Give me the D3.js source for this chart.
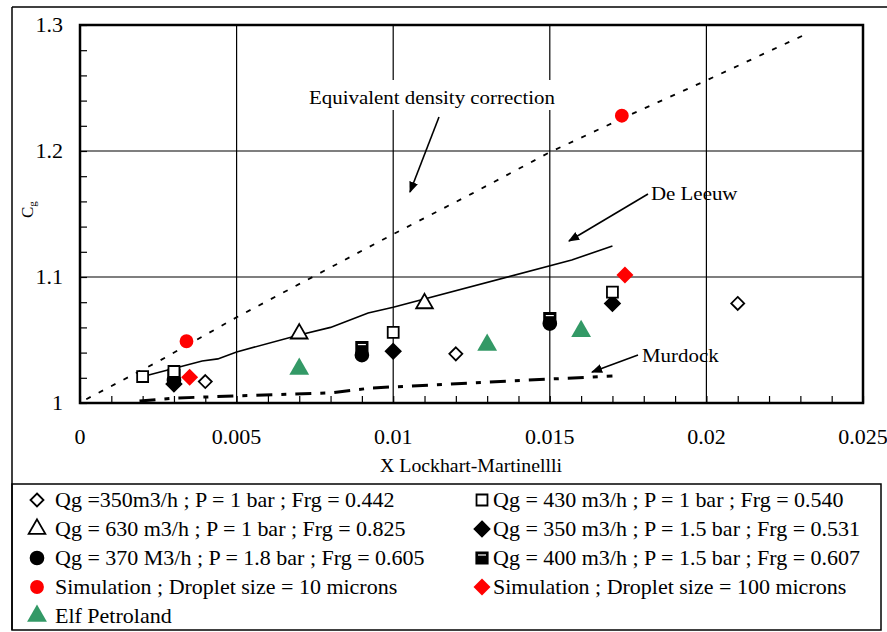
<!DOCTYPE html>
<html>
<head>
<meta charset="utf-8">
<title>Cg vs Lockhart-Martinelli</title>
<script src="https://d3js.org/d3.v7.min.js"></script>
<style>
  body { margin: 0; background: #fff; }
  svg { font-family: "Liberation Serif", "Times New Roman", serif; }
</style>
</head>
<body>
<div id="chart"></div>
<script>
// ---- data ----
var xTicks = [0, 0.005, 0.01, 0.015, 0.02, 0.025];
var yTicks = [1, 1.1, 1.2, 1.3];
var xTickLabels = ["0", "0.005", "0.01", "0.015", "0.02", "0.025"];
var yTickLabels = ["1", "1.1", "1.2", "1.3"];

// open diamond : Qg=350 m3/h, P=1 bar
var qg350p1 = [[0.004, 1.017], [0.012, 1.039], [0.021, 1.079]];
// open square : Qg=430 m3/h, P=1 bar
var qg430p1 = [[0.002, 1.021], [0.003, 1.025], [0.01, 1.056], [0.017, 1.088]];
// open triangle : Qg=630 m3/h, P=1 bar
var qg630p1 = [[0.007, 1.055], [0.011, 1.079]];
// filled diamond : Qg=350 m3/h, P=1.5 bar
var qg350p15 = [[0.003, 1.015], [0.01, 1.041], [0.017, 1.079]];
// filled circle : Qg=370 m3/h, P=1.8 bar
var qg370p18 = [[0.003, 1.018], [0.009, 1.038], [0.015, 1.063]];
// half filled square : Qg=400 m3/h, P=1.5 bar
var qg400p15 = [[0.003, 1.022], [0.009, 1.044], [0.015, 1.067]];
// red circle : simulation 10 microns
var sim10 = [[0.0034, 1.049], [0.0173, 1.228]];
// red diamond : simulation 100 microns
var sim100 = [[0.0035, 1.0205], [0.0174, 1.1015]];
// green triangle : Elf Petroland
var elf = [[0.007, 1.027], [0.013, 1.046], [0.016, 1.057]];

// model curves
var eqDensity = [[0.0002, 1.003], [0.0025, 1.033], [0.005, 1.068], [0.0075, 1.101],
                 [0.01, 1.134], [0.0125, 1.166], [0.015, 1.199], [0.0175, 1.228],
                 [0.02, 1.256], [0.0232, 1.293]];
var deLeeuw = [[0.00195, 1.0206], [0.0039, 1.0333], [0.0044, 1.035], [0.005, 1.0405],
               [0.007, 1.054], [0.008, 1.060], [0.0092, 1.0714], [0.01, 1.076],
               [0.0157, 1.1135], [0.017, 1.1246]];
var murdock = [[0.0019, 1.0016], [0.0031, 1.004], [0.005, 1.0056], [0.008, 1.008],
               [0.0093, 1.0119], [0.0118, 1.015], [0.015, 1.019], [0.017, 1.0214]];

var legendLabels = [
  "Qg =350m3/h ; P = 1 bar ; Frg = 0.442",
  "Qg = 430 m3/h ; P = 1 bar ; Frg = 0.540",
  "Qg = 630 m3/h ; P = 1 bar ; Frg = 0.825",
  "Qg = 350 m3/h ; P = 1.5 bar ; Frg = 0.531",
  "Qg = 370 M3/h ; P = 1.8 bar ; Frg = 0.605",
  "Qg = 400 m3/h ; P = 1.5 bar ; Frg = 0.607",
  "Simulation ; Droplet size = 10 microns",
  "Simulation ; Droplet size = 100 microns",
  "Elf Petroland"
];

// ---- layout ----
var W = 887, H = 632;
var margin = { top: 25, left: 80, right: 24, bottom: 229 };
var pw = W - margin.left - margin.right,
    ph = H - margin.top - margin.bottom;
var stretch = 1.1;   // the source text is a bit wider than Liberation Serif

var svg = d3.select("#chart").append("svg")
  .attr("width", W).attr("height", H);

// text helper: wide serif text anchored at (tx,ty)
function label(parent, tx, ty, str, size, anchor) {
  return parent.append("g")
    .attr("transform", "translate(" + tx + "," + ty + ") scale(" + stretch + ",1)")
    .append("text").attr("text-anchor", anchor || "start")
    .attr("font-size", size).text(str);
}

// outer frame
svg.append("line").attr("x1", 12).attr("x2", 887).attr("y1", 7).attr("y2", 7)
  .attr("stroke", "#000").attr("stroke-width", 1.5);
svg.append("line").attr("x1", 12).attr("x2", 12).attr("y1", 7).attr("y2", 630)
  .attr("stroke", "#000").attr("stroke-width", 1.5);

var g = svg.append("g")
  .attr("transform", "translate(" + margin.left + "," + margin.top + ")");

var x = d3.scaleLinear().domain([0, 0.025]).range([0, pw]);
var y = d3.scaleLinear().domain([1, 1.3]).range([ph, 0]);

// grid lines
g.selectAll(".vgrid").data(xTicks.slice(1, -1)).enter().append("line")
  .attr("x1", function (d) { return x(d); }).attr("x2", function (d) { return x(d); })
  .attr("y1", 0).attr("y2", ph)
  .attr("stroke", "#000").attr("stroke-width", 1.2);
g.selectAll(".hgrid").data(yTicks.slice(1, -1)).enter().append("line")
  .attr("x1", 0).attr("x2", pw)
  .attr("y1", function (d) { return y(d); }).attr("y2", function (d) { return y(d); })
  .attr("stroke", "#000").attr("stroke-width", 1.2);

// minor ticks pointing inside
var yAxis = d3.axisRight(y).ticks(15).tickSize(7).tickFormat("");
g.append("g").call(yAxis).call(function (s) { s.select(".domain").remove(); });
var xAxis = d3.axisTop(x).ticks(25).tickSize(7).tickFormat("");
g.append("g").attr("transform", "translate(0," + ph + ")").call(xAxis)
  .call(function (s) { s.select(".domain").remove(); });
g.selectAll(".tick line").attr("stroke-width", 1.2);

// tick labels
yTicks.forEach(function (d, i) {
  label(g, -17, y(d) + 7, yTickLabels[i], 20, "end");
});
xTicks.forEach(function (d, i) {
  label(g, x(d), ph + 41, xTickLabels[i], 20, "middle");
});

// axis titles
label(svg, 471, 472, "X Lockhart-Martinellli", 18, "middle");
var yt = svg.append("text").attr("transform", "translate(33,218) rotate(-90)")
  .attr("font-size", 17);
yt.append("tspan").text("C");
yt.append("tspan").attr("font-size", 11).attr("dy", 3).text("g");

// curves
var line = d3.line().x(function (d) { return x(d[0]); }).y(function (d) { return y(d[1]); });
g.append("path").datum(eqDensity).attr("d", line).attr("fill", "none")
  .attr("stroke", "#000").attr("stroke-width", 1.8).attr("stroke-dasharray", "5,9");
g.append("path").datum(deLeeuw).attr("d", line).attr("fill", "none")
  .attr("stroke", "#000").attr("stroke-width", 1.6);
g.append("path").datum(murdock).attr("d", line).attr("fill", "none")
  .attr("stroke", "#000").attr("stroke-width", 3).attr("stroke-dasharray", "16,9,5,9");

// annotations with arrows
svg.append("defs").append("marker").attr("id", "arrow")
  .attr("viewBox", "0 0 10 10").attr("refX", 9).attr("refY", 5)
  .attr("markerWidth", 7).attr("markerHeight", 7).attr("orient", "auto")
  .append("path").attr("d", "M0,1 L10,5 L0,9 Z").attr("fill", "#000");

function note(text, tx, ty, anchor, x1, y1, x2, y2) {
  label(svg, tx, ty, text, 19, anchor);
  svg.append("line").attr("x1", x1).attr("y1", y1).attr("x2", x2).attr("y2", y2)
    .attr("stroke", "#000").attr("stroke-width", 1.6).attr("marker-end", "url(#arrow)");
}
// white backing behind the top label so the grid line is cut
svg.append("rect").attr("x", 303).attr("y", 80).attr("width", 258).attr("height", 30).attr("fill", "#fff");
note("Equivalent density correction", 432, 104, "middle", 439, 117, 410, 192);
note("De Leeuw", 651, 200, "start", 648, 194, 569, 241);
note("Murdock", 642, 362, "start", 638, 355, 592, 372);

// ---- markers ----
function sym(type, size) { return d3.symbol().type(type).size(size)(); }
function diamond(r) { return "M0," + (-r) + "L" + r + ",0L0," + r + "L" + (-r) + ",0Z"; }
var shapes = {
  openDiamond:  { path: diamond(6.5), fill: "#fff", stroke: "#000" },
  openSquare:   { path: sym(d3.symbolSquare, 120), fill: "#fff", stroke: "#000" },
  openTriangle: { path: sym(d3.symbolTriangle, 120), fill: "#fff", stroke: "#000" },
  filledDiamond:{ path: diamond(7.5), fill: "#000", stroke: "#000" },
  filledCircle: { path: sym(d3.symbolCircle, 130), fill: "#000", stroke: "#000" },
  halfSquare:   { path: sym(d3.symbolSquare, 130), fill: "#000", stroke: "#000" },
  redCircle:    { path: sym(d3.symbolCircle, 150), fill: "#ff0000", stroke: "none" },
  redDiamond:   { path: diamond(8.5), fill: "#ff0000", stroke: "none" },
  greenTri:     { path: sym(d3.symbolTriangle, 170), fill: "#339966", stroke: "none" }
};
var seriesOrder = [
  { data: qg350p15, shape: "filledDiamond" },
  { data: qg370p18, shape: "filledCircle" },
  { data: qg400p15, shape: "halfSquare" },
  { data: qg350p1, shape: "openDiamond" },
  { data: qg430p1, shape: "openSquare" },
  { data: qg630p1, shape: "openTriangle" },
  { data: sim10, shape: "redCircle" },
  { data: sim100, shape: "redDiamond" },
  { data: elf, shape: "greenTri" }
];

function drawMarker(sel, key) {
  var s = shapes[key];
  sel.append("path").attr("d", s.path).attr("fill", s.fill)
    .attr("stroke", s.stroke).attr("stroke-width", 1.8);
  if (key === "halfSquare") {
    sel.append("line").attr("x1", -4).attr("x2", 4).attr("y1", -3).attr("y2", -3)
      .attr("stroke", "#fff").attr("stroke-width", 1.2);
  }
}

seriesOrder.forEach(function (ser) {
  g.selectAll(null).data(ser.data).enter().append("g")
    .attr("transform", function (d) { return "translate(" + x(d[0]) + "," + y(d[1]) + ")"; })
    .each(function () { drawMarker(d3.select(this), ser.shape); });
});

// plot border on top
g.append("rect").attr("width", pw).attr("height", ph)
  .attr("fill", "none").attr("stroke", "#000").attr("stroke-width", 2.5);

// ---- legend ----
svg.append("rect").attr("x", 12).attr("y", 484).attr("width", 869).attr("height", 146)
  .attr("fill", "none").attr("stroke", "#000").attr("stroke-width", 1.5);
var legendShapes = ["openDiamond", "openSquare", "openTriangle", "filledDiamond",
  "filledCircle", "halfSquare", "redCircle", "redDiamond", "greenTri"];
legendLabels.forEach(function (lab, i) {
  var col = i % 2, row = Math.floor(i / 2);
  var lx = col === 0 ? 37 : 482, ly = 500 + row * 29;
  var lg = svg.append("g").attr("transform", "translate(" + lx + "," + ly + ")");
  drawMarker(lg, legendShapes[i]);
  label(lg, col === 0 ? 18 : 11, 7, lab, 20, "start");
});
</script>
</body>
</html>
